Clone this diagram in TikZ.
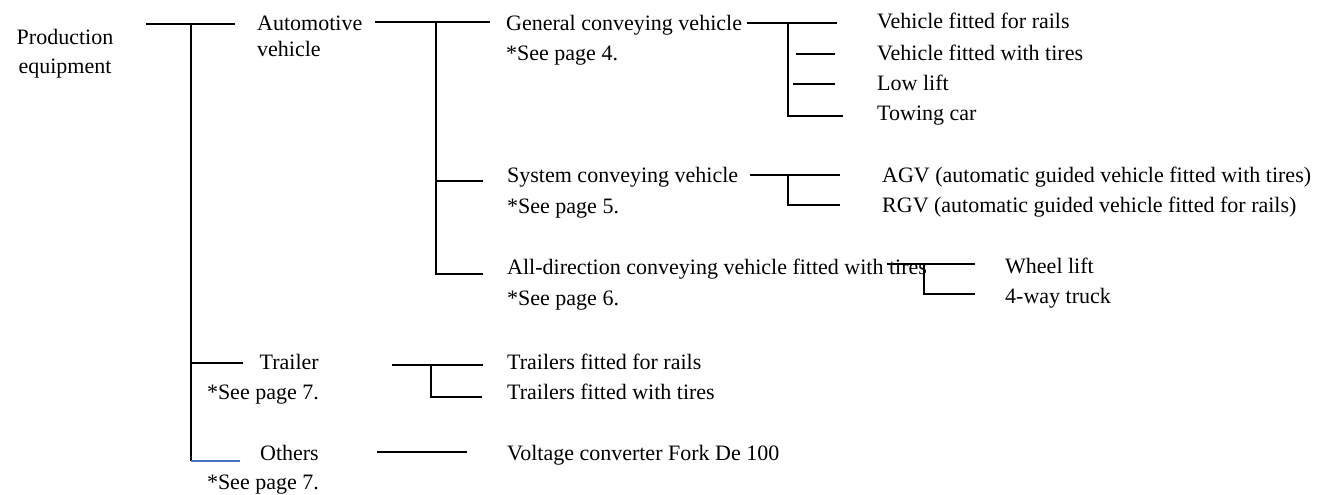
\documentclass[tikz,border=0pt]{standalone}
\usepackage{fontspec}
\setmainfont{Liberation Serif}
\definecolor{linkblue}{HTML}{4472C4}
\begin{document}
\begin{tikzpicture}[x=1pt,y=-1pt,
  lbl/.style={anchor=base west, inner sep=0pt, font=\fontsize{22}{30}\selectfont},
  lblr/.style={anchor=base east, inner sep=0pt, font=\fontsize{22}{30}\selectfont},
  lblc/.style={anchor=base, inner sep=0pt, font=\fontsize{22}{29}\selectfont},
  br/.style={line width=1.6pt, black}]
\useasboundingbox[fill=white] (0,0) rectangle (1323,495);

% text nodes (multi-line nodes: base = last line baseline)
\node[lblc,align=center] (prod) at (65,74) {Production\\equipment};
\node[lbl,align=left,font=\fontsize{22}{27}\selectfont] (auto) at (257,57) {Automotive\\vehicle};
\node[lbl,align=left] (gen) at (506,60) {General conveying vehicle\\*See page 4.};
\node[lbl] (v1) at (877,29) {Vehicle fitted for rails};
\node[lbl] (v2) at (877,60) {Vehicle fitted with tires};
\node[lbl] (v3) at (877,90) {Low lift};
\node[lbl] (v4) at (877,121) {Towing car};
\node[lbl,align=left,font=\fontsize{22}{31}\selectfont] (sys) at (507,213) {System conveying vehicle\\*See page 5.};
\node[lbl] (agv) at (882,182) {AGV (automatic guided vehicle fitted with tires)};
\node[lbl] (rgv) at (882,212) {RGV (automatic guided vehicle fitted for rails)};
\node[lbl,align=left,font=\fontsize{22}{31}\selectfont] (alld) at (507,305) {All-direction conveying vehicle fitted with tires\\*See page 6.};
\node[lbl] (wl) at (1005,273) {Wheel lift};
\node[lbl] (fw) at (1005,303) {4-way truck};
\node[lblr,align=right] (trl) at (319,399) {Trailer\\*See page 7.};
\node[lbl] (t1) at (507,369) {Trailers fitted for rails};
\node[lbl] (t2) at (507,399) {Trailers fitted with tires};
\node[lblr,align=right,font=\fontsize{22}{29}\selectfont] (oth) at (319,489) {Others\\*See page 7.};
\node[lbl] (volt) at (507,460) {Voltage converter Fork De 100};

% bracket points
\coordinate (r0) at (146,24);
\coordinate (r1) at (235,24);
\coordinate (rt) at (191,24);
\coordinate (rtr) at (191,363);
\coordinate (rtrE) at (243,363);
\coordinate (rb) at (191,461);
\coordinate (rbE) at (240,461);

\coordinate (a0) at (375,22);
\coordinate (a1) at (490,22);
\coordinate (at) at (436,22);
\coordinate (as) at (436,181);
\coordinate (asE) at (483,181);
\coordinate (ab) at (436,274);
\coordinate (abE) at (483,274);

\coordinate (g0) at (747,23);
\coordinate (g1) at (837,23);
\coordinate (gt) at (788,23);
\coordinate (g2) at (796,54);
\coordinate (g2E) at (835,54);
\coordinate (g3) at (793,84);
\coordinate (g3E) at (835,84);
\coordinate (gb) at (788,116);
\coordinate (gbE) at (843,116);

\coordinate (s0) at (750,175);
\coordinate (s1) at (840,175);
\coordinate (st) at (788,175);
\coordinate (sb) at (788,205);
\coordinate (sbE) at (840,205);

\coordinate (d0) at (887,264);
\coordinate (d1) at (975,264);
\coordinate (dt) at (924,264);
\coordinate (db) at (924,294);
\coordinate (dbE) at (975,294);

\coordinate (t0) at (392,365);
\coordinate (t1E) at (483,365);
\coordinate (tt) at (431,365);
\coordinate (tb) at (431,397);
\coordinate (tbE) at (482,397);

\coordinate (o0) at (377,452);
\coordinate (o1) at (467,452);

% connectors
\draw[br] (r0) -- (r1);
\draw[br] (rt) -- (rb);
\draw[br] (rtr) -- (rtrE);
\draw[line width=1.6pt, linkblue] (rb) -- (rbE);

\draw[br] (a0) -- (a1);
\draw[br] (at) -- (ab) -- (abE);
\draw[br] (as) -- (asE);

\draw[br] (g0) -- (g1);
\draw[br] (gt) -- (gb) -- (gbE);
\draw[br] (g2) -- (g2E);
\draw[br] (g3) -- (g3E);

\draw[br] (s0) -- (s1);
\draw[br] (st) -- (sb) -- (sbE);

\draw[br] (d0) -- (d1);
\draw[br] (dt) -- (db) -- (dbE);

\draw[br] (t0) -- (t1E);
\draw[br] (tt) -- (tb) -- (tbE);

\draw[br] (o0) -- (o1);
\end{tikzpicture}
\end{document}
